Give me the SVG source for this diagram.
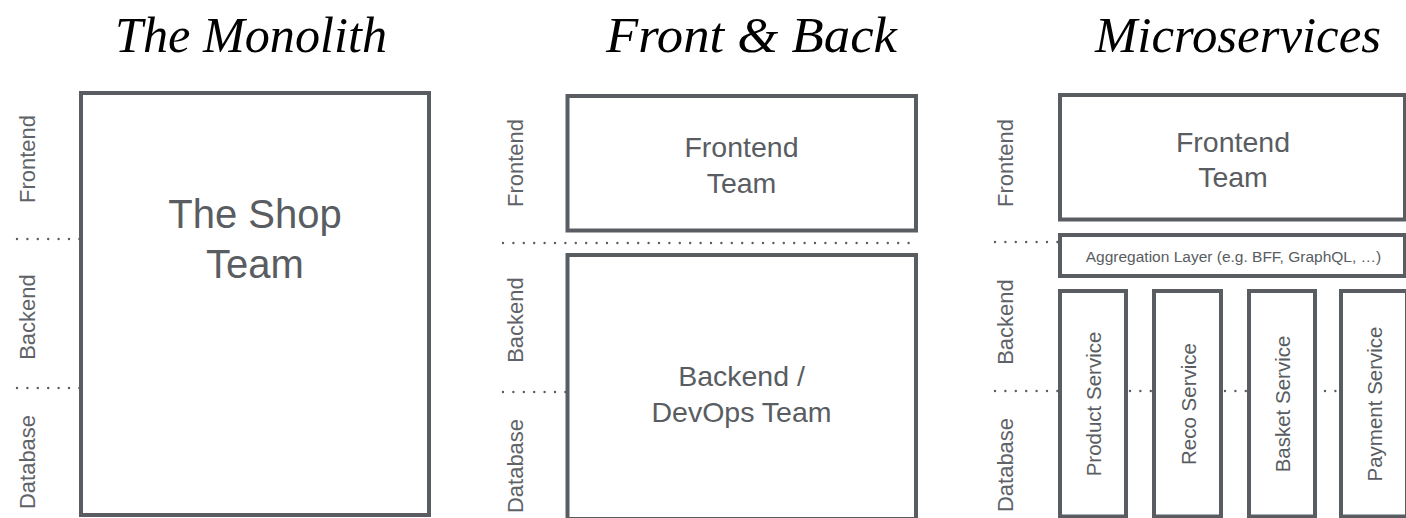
<svg xmlns="http://www.w3.org/2000/svg" width="1406" height="518" viewBox="0 0 1406 518">
<style>
.box{fill:#fff;stroke:#595d62;stroke-width:4}
.dots{fill:none;stroke:#595d62;stroke-width:2.4;stroke-linecap:round;stroke-dasharray:0 10.4}
.title{font-family:"Liberation Serif",serif;font-style:italic;font-size:50px;fill:#000}
.side{font-family:"Liberation Sans",Arial,sans-serif;font-size:22px;fill:#5f6368;text-anchor:middle}
.big{font-family:"Liberation Sans",Arial,sans-serif;fill:#595d62;text-anchor:middle}
.svc{font-family:"Liberation Sans",Arial,sans-serif;font-size:20.5px;fill:#595d62;text-anchor:middle}
</style>
<rect width="1406" height="518" fill="#fff"/>
<g id="titles">
<text class="title" x="115" y="52" textLength="272" lengthAdjust="spacingAndGlyphs">The Monolith</text>
<text class="title" x="606" y="52" textLength="291" lengthAdjust="spacingAndGlyphs">Front &amp; Back</text>
<text class="title" x="1095" y="52" textLength="286" lengthAdjust="spacingAndGlyphs">Microservices</text>
</g>
<g id="connectors">
<line class="dots" x1="17" y1="239" x2="80" y2="239"/>
<line class="dots" x1="17" y1="388" x2="80" y2="388"/>
<line class="dots" x1="503" y1="243" x2="916" y2="243"/>
<line class="dots" x1="503" y1="392" x2="566" y2="392"/>
<line class="dots" x1="995" y1="242" x2="1058" y2="242"/>
<line class="dots" x1="995" y1="391" x2="1058" y2="391"/>
<line class="dots" x1="1130" y1="391" x2="1152" y2="391"/>
<line class="dots" x1="1225" y1="391" x2="1247" y2="391"/>
<line class="dots" x1="1325" y1="391" x2="1339" y2="391"/>
</g>
<g id="layer-labels">
<text class="side" transform="translate(35,159) rotate(-90)">Frontend</text>
<text class="side" transform="translate(35,317) rotate(-90)">Backend</text>
<text class="side" transform="translate(35,462) rotate(-90)">Database</text>
<text class="side" transform="translate(523,163) rotate(-90)">Frontend</text>
<text class="side" transform="translate(523,320) rotate(-90)">Backend</text>
<text class="side" transform="translate(523,466) rotate(-90)">Database</text>
<text class="side" transform="translate(1013,163) rotate(-90)">Frontend</text>
<text class="side" transform="translate(1013,322) rotate(-90)">Backend</text>
<text class="side" transform="translate(1013,465) rotate(-90)">Database</text>
</g>
<g id="shop-team">
<rect class="box" x="81" y="93" width="348" height="422"/>
<text class="big" font-size="40" x="255" y="228">The Shop</text>
<text class="big" font-size="40" x="255" y="278">Team</text>
</g>
<g id="fb-frontend-team">
<rect class="box" x="567.5" y="96" width="348.5" height="134.5"/>
<text class="big" font-size="28.5" x="741.5" y="157">Frontend</text>
<text class="big" font-size="28.5" x="741.5" y="193">Team</text>
</g>
<g id="fb-backend-team">
<rect class="box" x="567.5" y="255" width="348.5" height="264"/>
<text class="big" font-size="28.5" x="741.5" y="386">Backend /</text>
<text class="big" font-size="28.5" x="741.5" y="422">DevOps Team</text>
</g>
<g id="ms-frontend-team">
<rect class="box" x="1060" y="95" width="345" height="124.5"/>
<text class="big" font-size="28.5" x="1233" y="152">Frontend</text>
<text class="big" font-size="28.5" x="1233" y="187">Team</text>
</g>
<g id="aggregation-layer">
<rect class="box" x="1060" y="235" width="345" height="41"/>
<text class="big" font-size="15.5" x="1233.5" y="262">Aggregation Layer (e.g. BFF, GraphQL, …)</text>
</g>
<g id="product-service">
<rect class="box" x="1060" y="291" width="66" height="225.5"/>
<text class="svc" transform="translate(1101,404) rotate(-90)">Product Service</text>
</g>
<g id="reco-service">
<rect class="box" x="1154" y="291" width="67" height="225.5"/>
<text class="svc" transform="translate(1195.5,404) rotate(-90)">Reco Service</text>
</g>
<g id="basket-service">
<rect class="box" x="1249" y="291" width="66" height="225.5"/>
<text class="svc" transform="translate(1290,404) rotate(-90)">Basket Service</text>
</g>
<g id="payment-service">
<rect class="box" x="1341" y="291" width="66" height="225.5"/>
<text class="svc" transform="translate(1382,404) rotate(-90)">Payment Service</text>
</g>
</svg>
